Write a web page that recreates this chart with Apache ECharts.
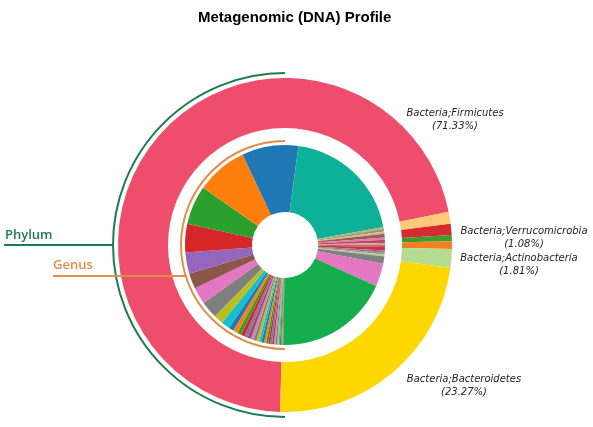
<!DOCTYPE html>
<html>
<head>
<meta charset="utf-8">
<title>Metagenomic (DNA) Profile</title>
<script src="https://cdn.jsdelivr.net/npm/echarts@6/dist/echarts.min.js"></script>
<style>
	html, body { margin: 0; padding: 0; background: #fff; }
	#profile_chart { width: 593px; height: 427px; }
</style>
</head>
<body>
<div id="profile_chart"></div>
<script>
// 门 (phylum) ring, clockwise from the bottom
var phylumNames = ['Bacteria;Firmicutes', '', 'Bacteria;Verrucomicrobia', '', '', 'Bacteria;Actinobacteria', 'Bacteria;Bacteroidetes'];
var phylumValues = [71.33, 1.16, 1.08, 0.60, 0.75, 1.81, 23.27];
var phylumColors = ['#ee4e6c', '#fdc878', '#d52b30', '#3f9b2b', '#f08020', '#b6dc92', '#fed600'];

// 属 (genus) pie, clockwise from the bottom
var genusValues = [
	0.15, 0.2, 0.2, 0.2, 0.25, 0.25, 0.25, 0.3, 0.3, 0.3, 0.35, 0.35, 0.4, 0.4, 0.45, 0.45, 0.5, 0.5, 0.55, 0.6, 0.65,
	0.75, 0.8, 1.4, 1.5, 2.8, 2.7, 2.5, 3.4, 4.6, 6.3, 8.3, 9.1, 19.9,
	0.35, 0.4, 0.35, 0.6, 0.35, 0.5, 0.3, 0.35, 0.55, 0.35, 0.3, 0.3,
	1.2, 3.7, 18.5
];
var genusColors = [
	'#2ca02c', '#ff7f0e', '#1f77b4', '#17becf', '#bcbd22', '#7f7f7f', '#e377c2', '#8c564b', '#9467bd', '#d62728', '#2ca02c',
	'#ff7f0e', '#1f77b4', '#17becf', '#bcbd22', '#7f7f7f', '#e377c2', '#8c564b', '#9467bd', '#d62728', '#2ca02c',
	'#ff7f0e', '#1f77b4', '#17becf', '#bcbd22', '#7f7f7f', '#e377c2', '#8c564b', '#9467bd', '#d62728', '#2ca02c', '#ff7f0e', '#1f77b4', '#0fb09a',
	'#b5b36a', '#8a9a7a', '#d8b88a', '#9c5a5a', '#e07aa0', '#b84a6a', '#e8a07a', '#c0608a', '#d0303a', '#a06aa0', '#8a9a8a', '#b8d080',
	'#7f7f7f', '#e377c2', '#16ae4c'
];

var CX = 285, CY = 245;
var phylumColor = '#1f7a4d', genusColor = '#e08f45';

// label centres for the named phyla
var labelPos = {
	0: [455, 120],
	2: [524, 238],
	5: [519, 265],
	6: [464, 386]
};

$ = function(id){ return document.getElementById(id); };

function buildData(values, names, colors){
	var data = [];
	for (var i = 0; i < values.length; i++) {
		data.push({
			name: names ? names[i] : '',
			value: values[i],
			itemStyle: { color: colors[i] },
			label: { show: !!(names && names[i]) }
		});
	}
	return data;
}

function profile(){
	var myChart = echarts.init($('profile_chart'));
	var option = {
		animation: false,
		title: {
			text: 'Metagenomic (DNA) Profile',
			left: 193,
			top: 5,
			textStyle: { fontFamily: 'Liberation Sans, Arial', fontSize: 15, fontWeight: 'bold', color: '#000' }
		},
		graphic: [
			{ type: 'arc', z: 10, shape: { cx: CX, cy: CY, r: 172, startAngle: Math.PI / 2, endAngle: Math.PI * 1.5 },
				style: { stroke: phylumColor, lineWidth: 2, fill: 'none' } },
			{ type: 'line', z: 10, shape: { x1: 4, y1: CY, x2: CX - 172, y2: CY },
				style: { stroke: phylumColor, lineWidth: 2 } },
			{ type: 'text', z: 10, left: 5, top: 229,
				style: { text: 'Phylum', fill: phylumColor, font: '600 13px "Open Sans"' } },
			{ type: 'arc', z: 10, shape: { cx: CX, cy: CY, r: 104, startAngle: Math.PI / 2, endAngle: Math.PI * 1.5 },
				style: { stroke: genusColor, lineWidth: 2, fill: 'none' } },
			{ type: 'line', z: 10, shape: { x1: 53, y1: 276, x2: CX - Math.sqrt(104 * 104 - 31 * 31), y2: 276 },
				style: { stroke: genusColor, lineWidth: 2 } },
			{ type: 'text', z: 10, left: 53, top: 259,
				style: { text: 'Genus', fill: genusColor, font: '600 13px "Open Sans"' } }
		],
		series: [
			{
				type: 'pie',
				center: [CX, CY],
				radius: [117, 167],
				startAngle: 268.3,
				silent: true,
				label: {
					position: 'outside',
					fontFamily: 'DejaVu Sans',
					fontStyle: 'italic',
					fontSize: 10,
					lineHeight: 13,
					color: '#222',
					overflow: 'none',
					formatter: function(p){ return p.name + '\n(' + p.value.toFixed(2) + '%)'; }
				},
				labelLine: { show: false },
				labelLayout: function(params){
					var p = labelPos[params.dataIndex];
					if (!p) return;
					return { x: p[0], y: p[1], align: 'center', verticalAlign: 'middle' };
				},
				data: buildData(phylumValues, phylumNames, phylumColors)
			},
			{
				type: 'pie',
				center: [CX, CY],
				radius: [33, 100],
				startAngle: 269,
				silent: true,
				label: { show: false },
				labelLine: { show: false },
				data: buildData(genusValues, null, genusColors)
			}
		]
	};
	myChart.setOption(option);
}

profile();
</script>
</body>
</html>
